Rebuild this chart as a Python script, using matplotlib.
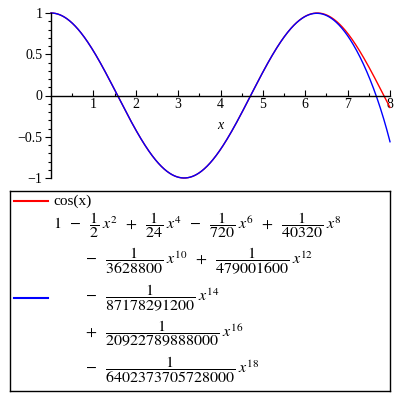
"""cos(x) against its degree-18 Taylor polynomial, Maple style."""

import numpy as np
import matplotlib
matplotlib.use("Agg")
import matplotlib.pyplot as plt

plt.rcParams["font.family"] = ["Liberation Serif", "DejaVu Serif"]
plt.rcParams["mathtext.fontset"] = "stix"

# Taylor coefficients of cos(x): sign / denominator * x**power
powers = [0, 2, 4, 6, 8, 10, 12, 14, 16, 18]
denominators = [1, 2, 24, 720, 40320, 3628800, 479001600, 87178291200,
                20922789888000, 6402373705728000]
signs = [1, -1, 1, -1, 1, -1, 1, -1, 1, -1]
# which terms of the polynomial go on each legend row
row_terms = [[0, 1, 2, 3, 4], [5, 6], [7], [8], [9]]

x_min, x_max = 0, 8
y_ticks = [-1, -0.5, 0, 0.5, 1]
y_tick_labels = ["\u22121", "\u22120.5", "0", "0.5", "1"]
x_ticks = [1, 2, 3, 4, 5, 6, 7, 8]

x = np.linspace(x_min, x_max, 600)
cos_y = np.cos(x)
taylor_y = sum(s * x ** p / d for s, p, d in zip(signs, powers, denominators))

fig = plt.figure(figsize=(4, 4), dpi=100)
ax = fig.add_axes([51 / 400, 222 / 400, 339 / 400, 165 / 400])
ax.plot(x, cos_y, color="#ff0000", lw=1.0, clip_on=False)
ax.plot(x, taylor_y, color="#0000ff", lw=1.0, clip_on=False)
ax.set_xlim(x_min, x_max)
ax.set_ylim(-1, 1)

for side in ("top", "right"):
    ax.spines[side].set_visible(False)
ax.spines["bottom"].set_position(("data", 0))
ax.spines["left"].set_position(("data", 0))
for sp in ("bottom", "left"):
    ax.spines[sp].set_linewidth(1.0)

ax.set_xticks(x_ticks)
ax.set_xticklabels([str(t) for t in x_ticks])
ax.set_xticks(np.arange(0.5, 8, 1.0), minor=True)
ax.set_yticks(y_ticks)
ax.set_yticklabels(y_tick_labels)
ax.set_yticks(np.arange(-1, 1.01, 0.1), minor=True)
ax.tick_params(axis="x", direction="in", length=4, width=0.8, labelsize=10, pad=2)
ax.tick_params(axis="x", which="minor", direction="in", length=2.5, width=0.8)
ax.tick_params(axis="y", direction="out", length=4, width=0.8, labelsize=10, pad=2)
ax.tick_params(axis="y", which="minor", direction="out", length=2, width=0.8)
ax.text(4.0, -0.36, "x", style="italic", fontsize=10, ha="center", va="center")

# legend box
lax = fig.add_axes([10 / 400, 9 / 400, 380 / 400, 200 / 400])
lax.set_xlim(0, 380)
lax.set_ylim(200, 0)
lax.set_xticks([])
lax.set_yticks([])
for sp in lax.spines.values():
    sp.set_linewidth(1.0)

lax.plot([4, 38], [10, 10], color="#ff0000", lw=1.5)
lax.plot([4, 38], [107, 107], color="#0000ff", lw=1.5)
lax.text(43, 10, "cos(x)", fontsize=11, va="center", ha="left")


def term_tex(i, first):
    s, p, d = signs[i], powers[i], denominators[i]
    op = "-" if s < 0 else "+"
    if p == 0:
        body = str(d)
    else:
        body = r"\dfrac{1}{%d}\;x^{%d}" % (d, p)
    if first and s > 0:
        return body
    return r"\;\;%s\;\;%s" % (op, body)


row_y = [34, 70, 107, 143, 179]
for r, terms in enumerate(row_terms):
    tex = "".join(term_tex(i, r == 0 and k == 0) for k, i in enumerate(terms))
    x0 = 43 if r == 0 else 67
    lax.text(x0, row_y[r], "$" + tex + "$", fontsize=11.5, va="center", ha="left")

fig.savefig("out.png", dpi=100)
